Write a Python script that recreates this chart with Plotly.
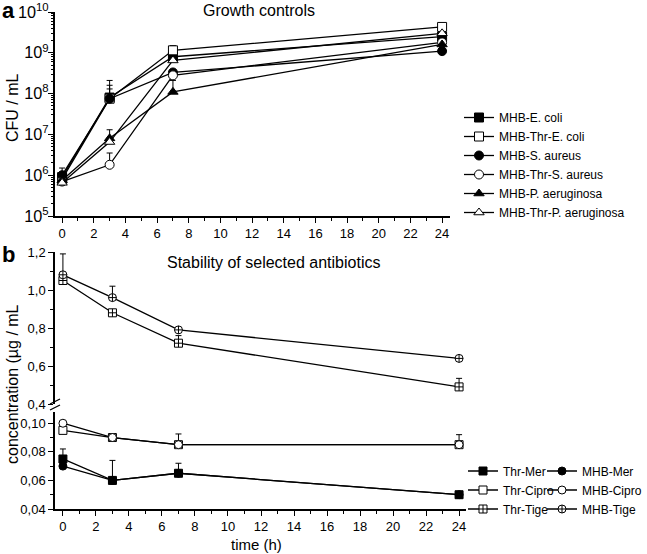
import plotly.graph_objects as go

# ---------------- data ----------------
times = [0, 3, 7, 24]

# Panel a: growth controls (CFU / mL)
growth_names = ["MHB-E. coli", "MHB-Thr-E. coli", "MHB-S. aureus",
                "MHB-Thr-S. aureus", "MHB-P. aeruginosa", "MHB-Thr-P. aeruginosa"]
ecoli = [9.0e5, 8.0e7, 8.0e8, 2.5e9]
ecoli_err = [0, 1.3e8, 0, 0]
thr_ecoli = [8.0e5, 7.5e7, 1.15e9, 4.3e9]
thr_ecoli_err = [0, 0.85e8, 0.35e9, 0.8e9]
saureus = [1.0e6, 7.5e7, 3.3e8, 1.1e9]
saureus_err = [0.5e6, 0.55e8, 0, 0]
thr_saureus = [7.0e5, 1.8e6, 2.8e8, 1.8e9]
thr_saureus_err = [0, 1.7e6, 0, 0]
paer = [7.5e5, 8.0e6, 1.1e8, 1.6e9]
paer_err = [0, 5.0e6, 1.0e8, 0]
thr_paer = [6.5e5, 6.5e6, 6.5e8, 3.0e9]
thr_paer_err = [0, 0, 0, 0]

# Panel b: stability of antibiotics (µg / mL)
stab_names = ["Thr-Mer", "Thr-Cipro", "Thr-Tige", "MHB-Mer", "MHB-Cipro", "MHB-Tige"]
thr_mer = [0.075, 0.060, 0.065, 0.050]
thr_mer_err = [0.007, 0.014, 0.007, 0]
thr_cipro = [0.095, 0.090, 0.085, 0.085]
thr_cipro_err = [0, 0, 0, 0]
thr_tige = [1.05, 0.88, 0.72, 0.49]
thr_tige_err = [0, 0, 0.04, 0.045]
mhb_mer = [0.070, 0.060, 0.065, 0.050]
mhb_mer_err = [0, 0, 0, 0]
mhb_cipro = [0.100, 0.090, 0.085, 0.085]
mhb_cipro_err = [0, 0, 0.0075, 0.007]
mhb_tige = [1.08, 0.96, 0.79, 0.64]
mhb_tige_err = [0.11, 0.06, 0, 0]

x_ticks = [0, 2, 4, 6, 8, 10, 12, 14, 16, 18, 20, 22, 24]

# ---------------- figure ----------------
W, H = 647, 554
FONT = "Liberation Sans, Arial, sans-serif"


def py(px):
    return 1 - px / H


def pxx(px):
    return px / W


fig = go.Figure()


def add(name, y, err, symbol, fill, xa, ya, legend, size):
    fig.add_trace(go.Scatter(
        x=times, y=y, name=name, mode="lines+markers",
        xaxis=xa, yaxis=ya, legend=legend,
        line=dict(color="black", width=1.3),
        marker=dict(symbol=symbol, size=size, color=fill,
                    line=dict(color="black", width=1)),
        error_y=dict(type="data", symmetric=False, array=err,
                     arrayminus=[0] * len(err), color="black",
                     thickness=1, width=3),
    ))


growth = [
    (growth_names[0], ecoli, ecoli_err, "square", "black"),
    (growth_names[1], thr_ecoli, thr_ecoli_err, "square", "white"),
    (growth_names[2], saureus, saureus_err, "circle", "black"),
    (growth_names[3], thr_saureus, thr_saureus_err, "circle", "white"),
    (growth_names[4], paer, paer_err, "triangle-up", "black"),
    (growth_names[5], thr_paer, thr_paer_err, "triangle-up", "white"),
]
for n, y, e, s, f in growth:
    add(n, y, e, s, f, "x", "y", "legend", 9)

# bottom panel: Tige series go on upper segment (y3), others on lower segment (y2)
stab = [
    (stab_names[0], thr_mer, thr_mer_err, "square", "black", "legend2", "y2"),
    (stab_names[1], thr_cipro, thr_cipro_err, "square", "white", "legend2", "y2"),
    (stab_names[2], thr_tige, thr_tige_err, "square-cross", "white", "legend2", "y3"),
    (stab_names[3], mhb_mer, mhb_mer_err, "circle", "black", "legend3", "y2"),
    (stab_names[4], mhb_cipro, mhb_cipro_err, "circle", "white", "legend3", "y2"),
    (stab_names[5], mhb_tige, mhb_tige_err, "circle-cross", "white", "legend3", "y3"),
]
for n, y, e, s, f, lg, ya in stab:
    add(n, y, e, s, f, "x2", ya, lg, 8)

axis_common = dict(
    showline=True, linecolor="black", linewidth=1.5, mirror=False,
    ticks="outside", ticklen=5, tickwidth=1, tickcolor="black",
    showgrid=False, zeroline=False, automargin=False,
    tickfont=dict(family=FONT, size=13, color="black"),
)

legend_common = dict(xanchor="left", yanchor="middle", bgcolor="rgba(0,0,0,0)",
                     font=dict(family=FONT, size=12))

fig.update_layout(
    template="none",
    width=W, height=H,
    margin=dict(l=0, r=0, t=0, b=0, autoexpand=False),
    paper_bgcolor="white", plot_bgcolor="white",
    separators=", ",
    font=dict(family=FONT, size=12, color="black"),
    xaxis=dict(domain=[pxx(55), pxx(450)], range=[-0.45, 24.5], anchor="y",
               tickvals=x_ticks,
               minor=dict(dtick=1, ticks="outside", ticklen=3, tickcolor="black"),
               **axis_common),
    yaxis=dict(domain=[py(216), py(12)], type="log", range=[5, 10], anchor="x",
               dtick=1, exponentformat="power", showexponent="all",
               ticklabelstandoff=-3,
               minor=dict(dtick="D1", ticks="outside", ticklen=2.5, tickcolor="black"),
               **axis_common),
    xaxis2=dict(domain=[pxx(55), pxx(466)], range=[-0.48, 24.42], anchor="y2",
                tickvals=x_ticks,
                minor=dict(dtick=1, ticks="outside", ticklen=3, tickcolor="black"),
                **axis_common),
    yaxis2=dict(domain=[py(509), py(411.8)], range=[0.04, 0.108], anchor="x2",
                tickvals=[0.04, 0.06, 0.08, 0.10], tickformat=".2f",
                minor=dict(dtick=0.01, ticks="outside", ticklen=3, tickcolor="black"),
                **axis_common),
    yaxis3=dict(domain=[py(404), py(252)], range=[0.4, 1.2], anchor="x2",
                tickvals=[0.4, 0.6, 0.8, 1.0, 1.2], tickformat=".1f",
                minor=dict(dtick=0.1, ticks="outside", ticklen=3, tickcolor="black"),
                **axis_common),
    legend=dict(x=pxx(459), y=py(165), tracegroupgap=0, **legend_common),
    legend2=dict(x=pxx(463), y=py(490), **legend_common),
    legend3=dict(x=1.0, y=py(490), xanchor="right", yanchor="middle",
                 bgcolor="rgba(0,0,0,0)", font=dict(family=FONT, size=12)),
    showlegend=True,
)

# axis break marks
for off in (0, 6):
    fig.add_shape(type="line", xref="paper", yref="paper",
                  x0=pxx(50), y0=py(404 + off), x1=pxx(60), y1=py(399 + off),
                  line=dict(color="black", width=1.3))

ann = [
    dict(text="<b>a</b>", x=pxx(0), y=py(10), size=22, xanchor="left"),
    dict(text="<b>b</b>", x=pxx(0), y=py(254), size=22, xanchor="left"),
    dict(text="Growth controls", x=pxx(259), y=py(10), size=16, xanchor="center"),
    dict(text="Stability of selected antibiotics", x=pxx(273), y=py(262), size=16,
         xanchor="center"),
    dict(text="time (h)", x=pxx(256), y=py(544), size=15, xanchor="center"),
]
for a in ann:
    fig.add_annotation(text=a["text"], x=a["x"], y=a["y"], xref="paper", yref="paper",
                       xanchor=a["xanchor"], yanchor="middle", showarrow=False,
                       font=dict(family=FONT, size=a["size"], color="black"))

fig.add_annotation(text="CFU / mL", x=pxx(12), y=py(108), xref="paper", yref="paper",
                   textangle=-90, showarrow=False, xanchor="center", yanchor="middle",
                   font=dict(family=FONT, size=16, color="black"))
fig.add_annotation(text="concentration (µg / mL", x=pxx(12), y=py(384), xref="paper",
                   yref="paper", textangle=-90, showarrow=False, xanchor="center",
                   yanchor="middle", font=dict(family=FONT, size=16, color="black"))

# remove the default page margin so the 647x554 figure fills the window exactly
fig.write_html("out.html",
               config={"displayModeBar": False},
               post_script="document.body.style.margin='0';"
                           "document.body.style.overflow='hidden';")
